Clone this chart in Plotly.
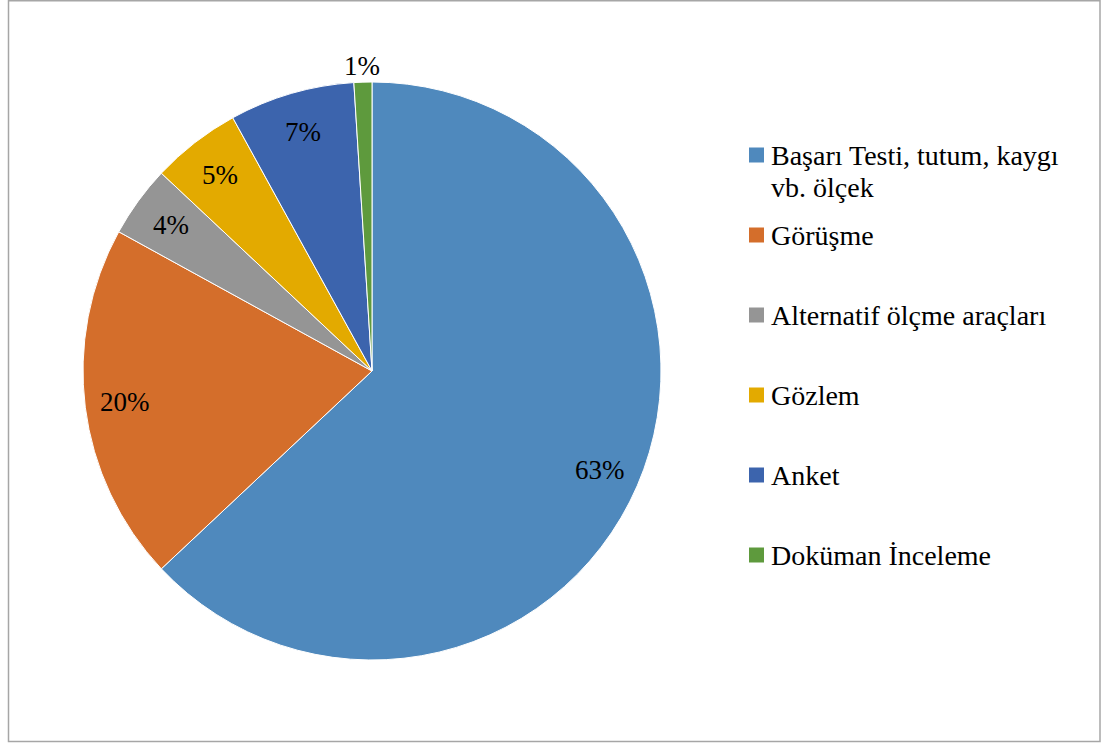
import math
import plotly.graph_objects as go

# Data-collection tools used in the reviewed studies (share, %)
categories = [
    "Başarı Testi, tutum, kaygı vb. ölçek",
    "Görüşme",
    "Alternatif ölçme araçları",
    "Gözlem",
    "Anket",
    "Doküman İnceleme",
]
# Legend text, one list of lines per entry
legend_lines = [
    ["Başarı Testi, tutum, kaygı", "vb. ölçek"],
    ["Görüşme"],
    ["Alternatif ölçme araçları"],
    ["Gözlem"],
    ["Anket"],
    ["Doküman İnceleme"],
]
shares = [63, 20, 4, 5, 7, 1]
colors = ["#4F89BD", "#D46E2B", "#959595", "#E3AA00", "#3C64AD", "#5E9A3D"]

W, H = 1105, 745
FONT = "Liberation Serif, Times New Roman, serif"

# Pie geometry in pixels
cx, cy, R = 372, 371, 289

fig = go.Figure(
    go.Pie(
        labels=categories,
        values=shares,
        sort=False,
        direction="clockwise",
        rotation=0,
        marker=dict(colors=colors, line=dict(color="white", width=1)),
        textinfo="none",
        hoverinfo="label+percent",
        showlegend=False,
        domain=dict(
            x=[(cx - R) / W, (cx + R) / W],
            y=[1 - (cy + R) / H, 1 - (cy - R) / H],
        ),
    )
)

annotations = []
shapes = []

# Percentage labels placed at each slice's mid-angle
total = sum(shares)
cum = 0.0
for v in shares:
    mid = (cum + v / 2) / total
    cum += v
    theta = 2 * math.pi * mid
    rr = R * (1.055 if v / total < 0.02 else 0.86)
    px = cx + rr * math.sin(theta)
    py = cy - rr * math.cos(theta)
    annotations.append(
        dict(
            x=px / W, y=1 - py / H, xref="paper", yref="paper",
            text=f"{round(100 * v / total)}%", showarrow=False,
            xanchor="center", yanchor="middle",
            font=dict(family=FONT, size=27, color="black"),
        )
    )

# Legend: colour squares with labels
leg_x0, leg_sq, leg_text_x = 749, 15, 769
leg_y = [155, 235, 315, 395, 475, 555]
line_gap = 32
for lines, col, yc in zip(legend_lines, colors, leg_y):
    shapes.append(
        dict(
            type="rect", xref="paper", yref="paper",
            x0=leg_x0 / W, x1=(leg_x0 + leg_sq) / W,
            y0=1 - (yc + leg_sq / 2) / H, y1=1 - (yc - leg_sq / 2) / H,
            fillcolor=col, line=dict(width=0),
        )
    )
    for k, txt in enumerate(lines):
        annotations.append(
            dict(
                x=leg_text_x / W, y=1 - (yc - 17 + k * line_gap) / H,
                xref="paper", yref="paper",
                text=txt, showarrow=False, align="left",
                xanchor="left", yanchor="top",
                font=dict(family=FONT, size=28, color="black"),
            )
        )

# Chart frame
shapes.append(
    dict(
        type="rect", xref="paper", yref="paper",
        x0=8.5 / W, x1=1100 / W, y0=1 - 741.5 / H, y1=1 - 0.8 / H,
        line=dict(color="#A6A6A6", width=1.5), fillcolor="rgba(0,0,0,0)",
    )
)

fig.update_layout(
    width=W, height=H,
    margin=dict(l=0, r=0, t=0, b=0),
    paper_bgcolor="white",
    plot_bgcolor="white",
    annotations=annotations,
    shapes=shapes,
)

fig.write_html("out.html")
